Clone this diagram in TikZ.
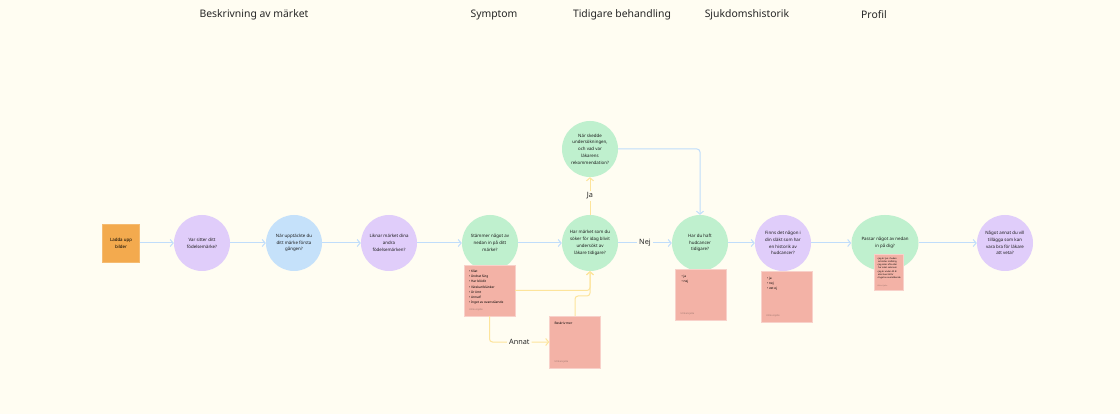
\documentclass[tikz,border=0pt]{standalone}
\usepackage{fontspec}
\setmainfont{Noto Sans}
\usetikzlibrary{positioning, arrows.meta, shapes.geometric}
\definecolor{Bakgrund}{RGB}{255, 253, 242}
\definecolor{Lila}{RGB}{224, 205, 250}
\definecolor{Ljusbla}{RGB}{197, 225, 250}
\definecolor{Gron}{RGB}{191, 240, 206}
\definecolor{Rosa}{RGB}{243, 178, 166}
\definecolor{Orange}{RGB}{243, 170, 78}
\definecolor{Bla}{RGB}{192, 221, 251}
\definecolor{Gul}{RGB}{253, 228, 155}
\definecolor{Gra}{RGB}{160, 120, 112}
\tikzset{
    fraga/.style = {circle, minimum size=56pt, inner sep=0pt, align=center, font=\fontsize{4.4}{6.8}\selectfont, text=black!90},
    lapp/.style = {fill=Rosa, draw=Rosa!60!white, line width=0.4pt, minimum width=51pt, minimum height=51pt, inner sep=0pt},
    lapptext/.style = {align=left, inner sep=0pt, font=\fontsize{3.2}{5.2}\selectfont},
    signatur/.style = {inner sep=0pt, text=Gra, font=\fontsize{2.4}{3}\selectfont},
    rubrik/.style = {font=\fontsize{10.4}{12}\selectfont, text=black!85},
    etikett/.style = {fill=Bakgrund, inner sep=2pt, font=\fontsize{7.3}{8}\selectfont, text=black!85},
    pil/.style = {arrows = {-Straight Barb[length=3pt, width=7pt]}, line width=1pt}
}

\begin{document}
\begin{tikzpicture}[
        x=1pt, y=-1pt,
        blalinje/.style = {pil, draw=Bla},
        gullinje/.style = {pil, draw=Gul}
    ]
    \fill[Bakgrund] (0,0) rectangle (1120,414);

    % rubriker
    \node[rubrik] at (254,15) {Beskrivning av märket};
    \node[rubrik] at (494,15) {Symptom};
    \node[rubrik] at (622,15) {Tidigare behandling};
    \node[rubrik] at (747,15) {Sjukdomshistorik};
    \node[rubrik] at (874,15) {Profil};

    % frågor
    \node (bilder) at (121,243) [fill=Orange, draw=Orange!80!white, minimum width=37pt, minimum height=38pt, inner sep=0pt, align=center, font=\fontsize{4.4}{6.8}\selectfont] {Ladda upp\\bilder};
    \node (plats) at (202,243) [fraga, fill=Lila] {Var sitter ditt\\födelsemärke?};
    \node (upptackt) at (294,243) [fraga, fill=Ljusbla] {När upptäckte du\\ditt märke första\\gången?};
    \node (liknar) at (389,243) [fraga, fill=Lila] {Liknar märket dina\\andra\\födelsemärken?};
    \node (symptom) at (490,243) [fraga, fill=Gron] {Stämmer något av\\nedan in på ditt\\märke?};
    \node (undersokt) at (590,243) [fraga, fill=Gron] {Har märket som du\\söker för idag blivit\\undersökt av\\läkare tidigare?};
    \node (rekommendation) at (590,149) [fraga, fill=Gron] {När skedde\\undersökningen,\\och vad var\\läkarens\\rekommendation?};
    \node (hudcancer) at (700,243) [fraga, fill=Gron] {Har du haft\\hudcancer\\tidigare?};
    \node (slakt) at (783,243) [fraga, fill=Lila] {Finns det någon i\\din släkt som har\\en historik av\\hudcancer?};
    \node (profil) at (885,243) [fraga, ellipse, minimum width=67pt, minimum height=56pt, fill=Gron] {Passar något av nedan\\in på dig?};
    \node (ovrigt) at (1005,243) [fraga, fill=Lila] {Något annat du vill\\tillägga som kan\\vara bra för läkare\\att veta?};

    % lappar
    \node (lappSymptom) at (489.5,290.5) [lapp] {};
    \node[lapptext, below right=5pt and 5pt of lappSymptom.north west] {\textbullet\ Kliat\\\textbullet\ Ändrat färg\\\textbullet\ Har blödit\\\textbullet\ Vätskar/blänker\\\textbullet\ Är ömt\\\textbullet\ Annat?\\\textbullet\ Inget av ovanstående};
    \node[signatur, above right=5pt and 5pt of lappSymptom.south west] {Ulrika Hjelte};

    \node (lappMer) at (575,342) [lapp, minimum height=52pt] {};
    \node[lapptext, below right=6pt and 5pt of lappMer.north west] {Beskriv mer};
    \node[signatur, above right=5pt and 5pt of lappMer.south west] {Ulrika Hjelte};

    \node (lappHudcancer) at (701,294.5) [lapp] {};
    \node[lapptext, below right=6pt and 6pt of lappHudcancer.north west] {\textbullet\ ja\\\textbullet\ nej};
    \node[signatur, above right=5pt and 5pt of lappHudcancer.south west] {Ulrika Hjelte};

    \node (lappSlakt) at (786.5,296.5) [lapp] {};
    \node[lapptext, below right=6pt and 6pt of lappSlakt.north west] {\textbullet\ ja\\\textbullet\ nej\\\textbullet\ vet ej};
    \node[signatur, above right=5pt and 5pt of lappSlakt.south west] {Ulrika Hjelte};

    \node (lappProfil) at (888.5,272) [lapp, minimum width=29pt, minimum height=36pt] {};
    \node[lapptext, below right=4pt and 3pt of lappProfil.north west, font=\fontsize{2.2}{3.1}\selectfont] {\textbullet\ Jag är ljus i huden\\\ \ och/eller rödhårig\\\textbullet\ Jag solar ofta eller\\\ \ har solat solarium\\\textbullet\ Jag är under 40 år\\\ \ eller över 60 år\\\textbullet\ Inget av ovanstående};
    \node[signatur, above right=3pt and 3pt of lappProfil.south west, font=\fontsize{1.8}{2}\selectfont] {Ulrika Hjelte};

    % kopplingar
    \draw[blalinje] (bilder) -- (plats);
    \draw[blalinje] (plats) -- (upptackt);
    \draw[blalinje] (upptackt) -- (liknar);
    \draw[blalinje] (liknar) -- (symptom);
    \draw[blalinje] (symptom) -- (undersokt);
    \draw[blalinje] (undersokt) -- node[etikett] {Nej} (hudcancer);
    \draw[blalinje] (hudcancer) -- (slakt);
    \draw[blalinje] (slakt) -- (profil);
    \draw[blalinje] (profil) -- (ovrigt);
    \draw[blalinje, rounded corners=3pt] (rekommendation.east) -| (hudcancer.north);

    \draw[gullinje] (undersokt.north) -- node[etikett] {Ja} (rekommendation.south);
    \draw[gullinje, rounded corners=3pt] (lappSymptom.east) -| (undersokt.south);
    \draw[gullinje, rounded corners=3pt] (lappMer.north) |- (undersokt.south |- 0,296) -- (undersokt.south);
    \draw[gullinje, rounded corners=3pt] (lappSymptom.south) |- node[etikett, pos=0.75] {Annat} (lappMer.west);
\end{tikzpicture}
\end{document}
